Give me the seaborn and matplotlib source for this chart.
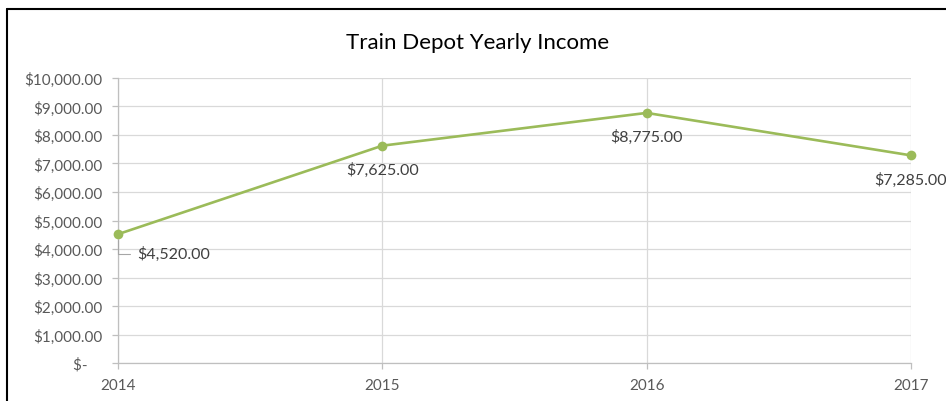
"""Train depot yearly income, Excel-style line chart with data labels."""
import matplotlib
matplotlib.use("Agg")
import matplotlib.pyplot as plt
from matplotlib.lines import Line2D
from matplotlib.ticker import FuncFormatter
import seaborn as sns

years = [2014, 2015, 2016, 2017]
income = [4520, 7625, 8775, 7285]
y_ticks = list(range(0, 10001, 1000))

GREEN = "#9BBB59"
GRID = "#D9D9D9"
AXIS = "#BFBFBF"
TICK_TEXT = "#595959"
LABEL_TEXT = "#404040"

sns.set_theme(style="white")
plt.rcParams["font.family"] = ["Lato", "DejaVu Sans"]


def money(v, _pos=None):
    if v == 0:
        return "$-    "
    return f"${v:,.2f}"


fig = plt.figure(figsize=(9.46, 4.02), dpi=100)
ax = fig.add_axes([0.1247, 0.0945, 0.963 - 0.1247, 0.8035 - 0.0945])

sns.lineplot(x=years, y=income, ax=ax, color=GREEN, linewidth=1.9,
             marker="o", markersize=7, markeredgewidth=0, markerfacecolor=GREEN)
for line in ax.lines:
    line.set_clip_on(False)
    line.set_zorder(5)

ax.set_xlim(years[0], years[-1])
ax.set_ylim(y_ticks[0], y_ticks[-1])
ax.set_xticks(years)
ax.set_yticks(y_ticks)
ax.yaxis.set_major_formatter(FuncFormatter(money))
ax.grid(True, color=GRID, linewidth=0.9)
ax.set_axisbelow(True)
for side in ["top", "right"]:
    ax.spines[side].set_visible(False)
for side in ["left", "bottom"]:
    ax.spines[side].set_color(AXIS)
    ax.spines[side].set_linewidth(0.9)
ax.tick_params(axis="both", which="major", length=4, width=0.9, color=AXIS,
               labelcolor=TICK_TEXT, labelsize=11, left=True, bottom=True)
ax.tick_params(axis="y", pad=7)
ax.tick_params(axis="x", pad=7)

# data labels: first one sits off to the right with a leader line
for i, (x, y) in enumerate(zip(years, income)):
    if i == 0:
        ax.annotate(money(y), xy=(x, y), xytext=(14, -14), textcoords="offset points",
                    ha="left", va="center", fontsize=11.5, color=LABEL_TEXT,
                    arrowprops=dict(arrowstyle="-", color="#A6A6A6", linewidth=0.8,
                                    connectionstyle="angle,angleA=180,angleB=90,rad=0",
                                    shrinkA=3, shrinkB=4))
    else:
        ax.annotate(money(y), xy=(x, y), xytext=(0, -17), textcoords="offset points",
                    ha="center", va="center", fontsize=11.5, color=LABEL_TEXT)

fig.text(0.505, 0.893, "Train Depot Yearly Income", ha="center", va="center",
         fontsize=16, color="#000000")

# chart border (cropped on the right and bottom)
fig.add_artist(Line2D([0.0074, 1.0], [0.975, 0.975], color="black", linewidth=1.5,
                      transform=fig.transFigure))
fig.add_artist(Line2D([0.0074, 0.0074], [0.0, 0.975], color="black", linewidth=1.5,
                      transform=fig.transFigure))

fig.savefig("out.png", dpi=100, facecolor="white")
